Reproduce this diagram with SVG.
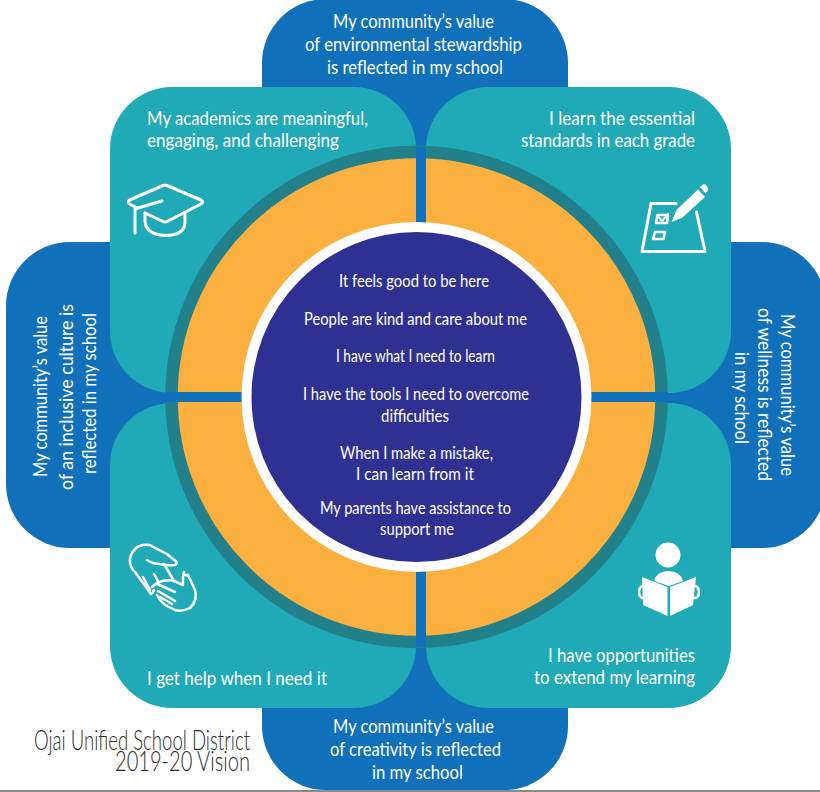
<svg xmlns="http://www.w3.org/2000/svg" width="820" height="792" viewBox="0 0 820 792">
<style>
.b{fill:#1070b9}.t{fill:#20a9b6}
text{font-family:"Lato","Open Sans","Liberation Sans",sans-serif;fill:#fff}
.p{font-size:20px}.c{font-size:17.5px}.q{font-size:18.300px}
.ln{fill:none;stroke:#fff;stroke-linecap:round;stroke-linejoin:round}
.ttl{font-family:"Lato","Liberation Sans",sans-serif;font-weight:300;font-size:27px;fill:#2b2b2b}
</style>
<rect width="820" height="792" fill="#fff"/>
<rect x="0" y="790" width="820" height="2" fill="#8a8a8a"/>
<g id="petals-outer">
<rect id="blue-top" class="b" x="262" y="-1" width="306" height="400" rx="64"/>
<rect id="blue-bottom" class="b" x="262" y="395" width="306" height="395" rx="64"/>
<rect id="blue-left" class="b" x="6" y="242" width="410" height="306" rx="64"/>
<rect id="blue-right" class="b" x="416" y="242" width="410" height="306" rx="64"/>
<rect class="b" x="262" y="300" width="306" height="200"/>
</g>
<g id="petals-inner">
<rect id="teal-tl" class="t" x="110" y="87" width="306" height="306" rx="62"/>
<rect id="teal-tr" class="t" x="426" y="87" width="305" height="306" rx="62"/>
<rect id="teal-bl" class="t" x="110" y="403" width="306" height="305" rx="62"/>
<rect id="teal-br" class="t" x="426" y="403" width="305" height="305" rx="62"/>
</g>
<g id="rings">
<circle cx="416.5" cy="397" r="245" fill="#fbb040" stroke="#21808a" stroke-width="12.5"/>
<rect class="b" x="416" y="147" width="10" height="500"/>
<rect class="b" x="165" y="392" width="503" height="10"/>
<circle id="center" cx="416.5" cy="397" r="170" fill="#2e3192" stroke="#fff" stroke-width="10"/>
</g>
<g id="center-text" text-anchor="middle">
<text class="c" x="414" y="287" textLength="150" lengthAdjust="spacingAndGlyphs">It feels good to be here</text>
<text class="c" x="415.500" y="325" textLength="223" lengthAdjust="spacingAndGlyphs">People are kind and care about me</text>
<text class="c" x="415.500" y="362" textLength="159" lengthAdjust="spacingAndGlyphs">I have what I need to learn</text>
<text class="c" x="416" y="400" textLength="226" lengthAdjust="spacingAndGlyphs">I have the tools I need to overcome</text>
<text class="c" x="415" y="422" textLength="68" lengthAdjust="spacingAndGlyphs">difficulties</text>
<text class="c" x="416.500" y="459" textLength="153" lengthAdjust="spacingAndGlyphs">When I make a mistake,</text>
<text class="c" x="415" y="480" textLength="118" lengthAdjust="spacingAndGlyphs">I can learn from it</text>
<text class="c" x="415.500" y="514" textLength="191" lengthAdjust="spacingAndGlyphs">My parents have assistance to</text>
<text class="c" x="417" y="535" textLength="74" lengthAdjust="spacingAndGlyphs">support me</text>
</g>
<g id="label-tl">
<text class="q" x="147" y="125" textLength="221" lengthAdjust="spacingAndGlyphs">My academics are meaningful,</text>
<text class="q" x="147" y="147" textLength="192" lengthAdjust="spacingAndGlyphs">engaging, and challenging</text>
</g>
<g id="label-tr">
<text class="q" x="549" y="125" textLength="146" lengthAdjust="spacingAndGlyphs">I learn the essential</text>
<text class="q" x="521" y="147" textLength="174" lengthAdjust="spacingAndGlyphs">standards in each grade</text>
</g>
<g id="label-bl"><text class="p" x="147" y="685" textLength="180" lengthAdjust="spacingAndGlyphs">I get help when I need it</text></g>
<g id="label-br">
<text class="p" x="548" y="662" textLength="147" lengthAdjust="spacingAndGlyphs">I have opportunities</text>
<text class="p" x="534" y="684" textLength="161" lengthAdjust="spacingAndGlyphs">to extend my learning</text>
</g>
<g id="label-top">
<text class="p" x="333" y="28" textLength="161" lengthAdjust="spacingAndGlyphs">My community’s value</text>
<text class="p" x="305" y="51" textLength="217" lengthAdjust="spacingAndGlyphs">of environmental stewardship</text>
<text class="p" x="327" y="74" textLength="176" lengthAdjust="spacingAndGlyphs">is reflected in my school</text>
</g>
<g id="label-bottom">
<text class="p" x="333" y="733" textLength="161" lengthAdjust="spacingAndGlyphs">My community’s value</text>
<text class="p" x="330" y="756" textLength="171" lengthAdjust="spacingAndGlyphs">of creativity is reflected</text>
<text class="p" x="372" y="779" textLength="91" lengthAdjust="spacingAndGlyphs">in my school</text>
</g>
<g id="label-left">
<text class="p" transform="translate(47,477) rotate(-90)" textLength="161" lengthAdjust="spacingAndGlyphs">My community’s value</text>
<text class="p" transform="translate(73,490) rotate(-90)" textLength="186" lengthAdjust="spacingAndGlyphs">of an inclusive culture is</text>
<text class="p" transform="translate(96,474) rotate(-90)" textLength="161" lengthAdjust="spacingAndGlyphs">reflected in my school</text>
</g>
<g id="label-right">
<text class="p" transform="translate(781,314) rotate(90)" textLength="162" lengthAdjust="spacingAndGlyphs">My community’s value</text>
<text class="p" transform="translate(758,308) rotate(90)" textLength="173" lengthAdjust="spacingAndGlyphs">of wellness is reflected</text>
<text class="p" transform="translate(735,352) rotate(90)" textLength="92" lengthAdjust="spacingAndGlyphs">in my school</text>
</g>
<g id="icon-cap" class="ln" stroke-width="3">
<path d="M137 208L129.500 204Q127 202 129.500 200L163 185.500Q165 184.800 167 185.500L201 200Q204 202 201 204L167 221.500Q165 222.500 163 221.500L145 213"/>
<path d="M135 233V209Q148 205 162 201"/>
<path d="M145 213V222Q147 235 166 235.500Q185 235 185 222V213"/>
</g>
<g id="icon-checklist">
<path class="ln" stroke-width="3" d="M676 203.500H651L642 251.500H705L696.500 212"/>
<path class="ln" stroke-width="2.500" d="M668 215H657.500L656 223H667ZM665 232H655L653 239H663.500Z"/>
<path class="ln" stroke-width="2" d="M659 217.500L662 221L668 214"/>
<path fill="#fff" d="M676.500 210L698 189.500L705 197L682.500 217.500L671.500 222Z"/>
<path fill="#fff" d="M700 187L703 184.500Q705 184 706 185L708 188Q709 190 707.500 191L705.500 193.500Z"/>
</g>
<g id="icon-hands" class="ln" stroke-width="2.500">
<path d="M176 561.500Q178 563 175 565Q168 566 160 564Q153 564 147 560M176 561.500L167 554Q155 548 150 545Q140 544 135 549Q129 555 130 563Q132 570 135 572L151 594Q153 593 154 590"/>
<path d="M143 577L150 590M154 574L159 583M164 564L174 581"/>
<path d="M183 577L184 572Q184 576 188 575L195 590Q198 600 190 608Q182 612 175 610L165 605Q160 601 157 595"/>
<path d="M183 577L183 585L172 580Q163 580 157 583L152 587"/>
<path d="M157 584L175 592M158 591L175 601M160 597L172 604"/>
</g>
<g id="icon-reader">
<ellipse cx="643" cy="592" rx="4" ry="6" fill="#20a9b6" stroke="#fff" stroke-width="2.500"/>
<ellipse cx="695" cy="592" rx="4" ry="6" fill="#20a9b6" stroke="#fff" stroke-width="2.500"/>
<g fill="#fff">
<circle cx="668" cy="555" r="12.500"/>
<path d="M654 581Q657 571 668 571Q680 571 683 581L669 586Z"/>
<path d="M642 577L667.500 587V616L643 605Z"/>
<path d="M696 577L670 587V616L693 605Z"/>
</g>
</g>
<g id="title">
<text class="ttl" x="34" y="750" textLength="216" lengthAdjust="spacingAndGlyphs">Ojai Unified School District</text>
<text class="ttl" x="115" y="771" textLength="135" lengthAdjust="spacingAndGlyphs">2019-20 Vision</text>
</g>
</svg>
